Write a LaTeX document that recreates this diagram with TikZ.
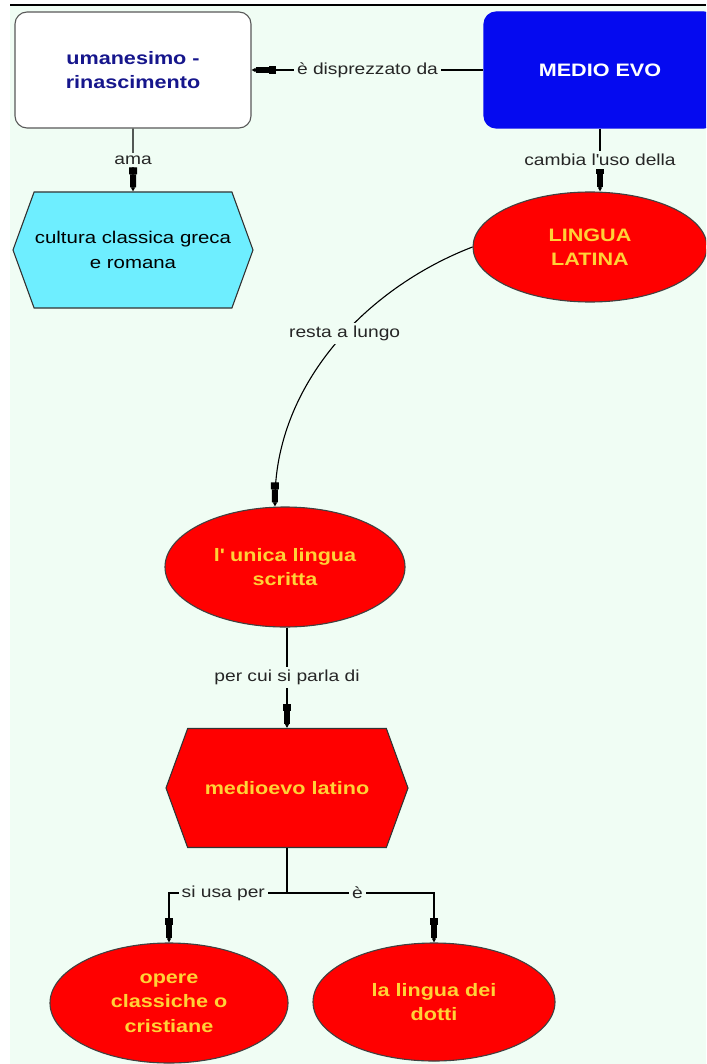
\documentclass[tikz,border=0pt]{standalone}
\usepackage{fontspec}
\setmainfont{Liberation Sans}[FakeStretch=1.2]
\usetikzlibrary{arrows.meta}
\usetikzlibrary{positioning}
\usetikzlibrary{shapes.geometric}
\usetikzlibrary{shapes.symbols}

\definecolor{mint}{RGB}{240,253,244}
\definecolor{navy}{RGB}{22,22,140}
\definecolor{boxblue}{RGB}{5,10,240}
\definecolor{skyhex}{RGB}{110,238,255}
\definecolor{lblyellow}{RGB}{255,210,55}

\begin{document}
\begin{tikzpicture}[x=1pt,y=-1pt,->,
      >={Rectangle[length=7pt,width=8pt,sep=0pt] Rectangle[length=13pt,width=6pt,sep=0pt] Triangle[length=4pt,width=4pt]},
      line width=1.1pt]
      \tikzstyle{concept}=[align=center,font=\bfseries\fontsize{18}{24.5}\selectfont,inner sep=0pt]
      \tikzstyle{roundbox}=[concept,rectangle,rounded corners=12pt,minimum width=236pt,minimum height=116pt]
      \tikzstyle{hexa}=[concept,signal,signal to=west and east,signal pointer angle=140,minimum width=240pt,minimum height=116pt,draw=black!80]
      \tikzstyle{oval}=[concept,ellipse,fill=red,draw=black!75,text=lblyellow]
      \tikzstyle{lbl}=[fill=mint,inner sep=3pt,font=\fontsize{16}{19}\selectfont,text=black!85]

      % sfondo
      \clip (0,0) rectangle (706,1064);
      \fill[white] (0,0) rectangle (706,1064);
      \fill[mint] (10,6) rectangle (706,1064);
      \draw[-,line width=1.6pt] (10,5) -- (706,5);

      \node[roundbox,draw=black!65,fill=white,text=navy]          (uman)    at (133,70)   {umanesimo -\\rinascimento};
      \node[roundbox,draw=boxblue,fill=boxblue,text=white,minimum width=232pt] (medio) at (600,70) {MEDIO EVO};
      \node[hexa,fill=skyhex,font=\fontsize{17}{25}\selectfont]   (cultura) at (133,250)  {cultura classica greca\\e romana};
      \node[oval,minimum width=234pt,minimum height=110pt]        (latina)  at (590,247)  {LINGUA\\LATINA};
      \node[oval,minimum width=240pt,minimum height=120pt]        (unica)   at (285,567)  {l\textquotesingle\ unica lingua\\scritta};
      \node[hexa,fill=red,text=lblyellow,minimum width=242pt,minimum height=119pt] (medlat) at (287,788) {medioevo latino};
      \node[oval,minimum width=238pt,minimum height=120pt]        (opere)   at (169,1003) {opere\\classiche o\\cristiane};
      \node[oval,minimum width=242pt,minimum height=118pt]        (dotti)   at (434,1002) {la lingua dei\\dotti};
      \coordinate (split) at (287,893);

      \path (medio) edge node[lbl] {è disprezzato da} (uman)
      (uman) edge node[lbl] {ama} (cultura)
      (medio.south) edge node[lbl] {cambia l\textquotesingle uso della} (latina.north -| medio.south)
      (unica.south -| medlat.north) edge node[lbl] {per cui si parla di} (medlat.north);

      \draw (latina.west) .. controls (366,288) and (274,385) .. node[lbl,pos=0.45] {resta a lungo} ([xshift=-10pt]unica.north);
      \draw[-] (medlat) -- (split);
      \draw (split) -| node[lbl,pos=0.27] {si usa per} (opere);
      \draw (split) -| node[lbl,pos=0.24] {è} (dotti);
\end{tikzpicture}
\end{document}
